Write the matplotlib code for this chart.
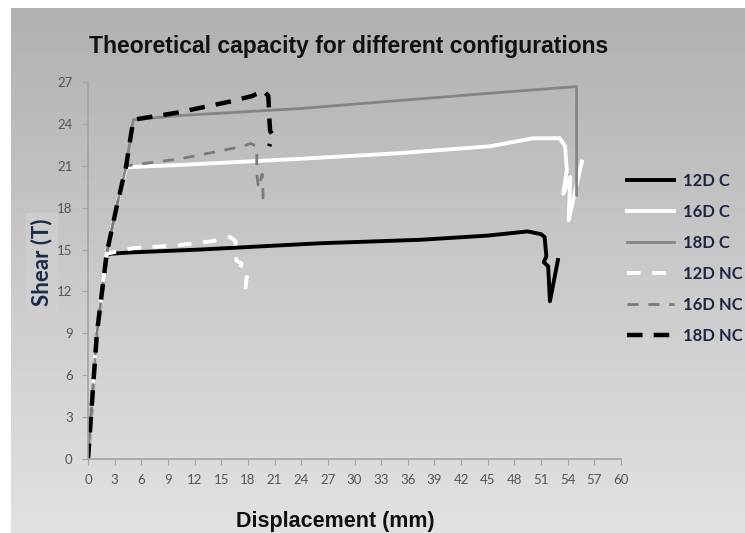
import matplotlib
matplotlib.use("Agg")
import matplotlib.pyplot as plt
import numpy as np

plt.rcParams["font.family"] = ["Lato", "DejaVu Sans"]

# shear vs displacement
x_12c = [0, 1.0, 2.1, 2.5, 5, 12.6, 26.1, 37.4, 45, 49.5, 51.0, 51.4, 51.6, 51.3, 51.8, 52.0, 52.9]
y_12c = [0, 9, 14.6, 14.7, 14.8, 15.0, 15.45, 15.7, 16.0, 16.3, 16.1, 15.9, 14.5, 14.1, 13.8, 11.3, 14.25]

x_16c = [0, 1.0, 2.1, 3.2, 4.3, 4.5, 10.4, 23.9, 35, 45.3, 50.1, 53.1, 53.7, 53.9, 53.5, 54.3, 54.1, 55.6]
y_16c = [0, 9, 14.7, 18, 20.9, 20.9, 21.06, 21.5, 21.9, 22.4, 22.97, 22.97, 22.4, 20.7, 19.0, 20.2, 17.1, 21.3]

x_18c = [0, 1.0, 2.1, 3.2, 4.3, 5.1, 10.4, 23.9, 45.3, 55.0, 55.0]
y_18c = [0, 9, 14.7, 18, 21.0, 24.3, 24.6, 25.1, 26.2, 26.67, 18.9]

x_12nc = [0, 1.0, 2.1, 5, 10, 14, 16.0, 16.6, 16.7, 17.3, 17.1, 17.9, 17.7]
y_12nc = [0, 9, 14.7, 15.1, 15.3, 15.6, 15.9, 15.6, 14.2, 14.0, 13.6, 13.2, 12.1]

x_16nc = [0, 1.0, 2.1, 3.2, 4.3, 10.4, 17.5, 18.3, 19.0, 19.0, 19.0, 19.2, 19.6, 19.7, 19.7]
y_16nc = [0, 9, 14.7, 18, 21.0, 21.5, 22.4, 22.6, 22.4, 21.3, 20.4, 19.4, 20.4, 19.1, 18.0]

x_18nc = [0, 1.0, 2.1, 3.2, 4.3, 5.1, 10, 16, 18.5, 19.7, 20.3, 20.4, 20.5, 20.8, 20.4]
y_18nc = [0, 9, 14.7, 18, 21.0, 24.3, 24.8, 25.6, 26.0, 26.4, 26.0, 24.5, 23.5, 23.2, 22.4]

labels = ["12D C", "16D C", "18D C", "12D NC", "16D NC", "18D NC"]

fig = plt.figure(figsize=(7.45, 5.33), dpi=100)
fig.patch.set_facecolor("white")

# grey gradient backdrop
bg = fig.add_axes([11/745, 0, 1 - 11/745, 1 - 8/533])
grad = np.linspace(0, 1, 256).reshape(-1, 1)
bg.imshow(grad, aspect="auto", cmap=matplotlib.colors.LinearSegmentedColormap.from_list("g", ["#b1b1b1", "#e2e2e2"]),
          extent=[0, 1, 0, 1], origin="upper")
bg.set_axis_off()

ax = fig.add_axes([88/745, 1 - 459/533, (621 - 88)/745, (459 - 82)/533])
ax.patch.set_alpha(0)

ax.plot(x_12c, y_12c, color="black", lw=2.8, label=labels[0], solid_joinstyle="round")
ax.plot(x_16c, y_16c, color="white", lw=2.8, label=labels[1], solid_joinstyle="round")
ax.plot(x_18c, y_18c, color="#858585", lw=2.0, label=labels[2])
ax.plot(x_12nc, y_12nc, color="white", lw=2.8, dashes=(3.5, 3), label=labels[3])
ax.plot(x_16nc, y_16nc, color="#7a7a7a", lw=2.0, dashes=(4, 3.5), label=labels[4])
ax.plot(x_18nc, y_18nc, color="black", lw=3.2, dashes=(3.5, 2.5), label=labels[5])

ax.set_xlim(0, 60)
ax.set_ylim(0, 27)
ax.set_xticks(np.arange(0, 61, 3))
ax.set_yticks(np.arange(0, 28, 3))
for s in ["top", "right"]:
    ax.spines[s].set_visible(False)
for s in ["left", "bottom"]:
    ax.spines[s].set_color("#a3a3a3")
    ax.spines[s].set_linewidth(1.2)
ax.tick_params(direction="out", length=4, color="#a3a3a3", labelcolor="#555555", labelsize=9.5)
ax.tick_params(axis="x", pad=7)
ax.tick_params(axis="y", pad=7)

fig.text(349/745, 1 - 47/533, "Theoretical capacity for different configurations",
         ha="center", va="center", fontsize=16.5, fontweight="bold", family="Liberation Sans", color="#111111")
fig.text(335/745, 1 - 521/533, "Displacement (mm)", ha="center", va="center",
         fontsize=15.5, fontweight="bold", family="Liberation Sans", color="#111111")
fig.text(42/745, 1 - 262/533, "Shear (T)", ha="center", va="center", rotation=90,
         fontsize=16, fontweight="bold", color="#1c2a4a",
         bbox=dict(facecolor="#d2d2d2", edgecolor="none", pad=4, alpha=0.6))

leg = ax.legend(loc="upper left", bbox_to_anchor=(627/745, 1 - 173/533), bbox_transform=fig.transFigure,
                frameon=False, fontsize=12, handlelength=2.8, handletextpad=0.55, labelspacing=0.9,
                borderaxespad=0, borderpad=0)
for t in leg.get_texts():
    t.set_color("#1c2541")
    t.set_fontweight("bold")

fig.savefig("out.png", dpi=100)
